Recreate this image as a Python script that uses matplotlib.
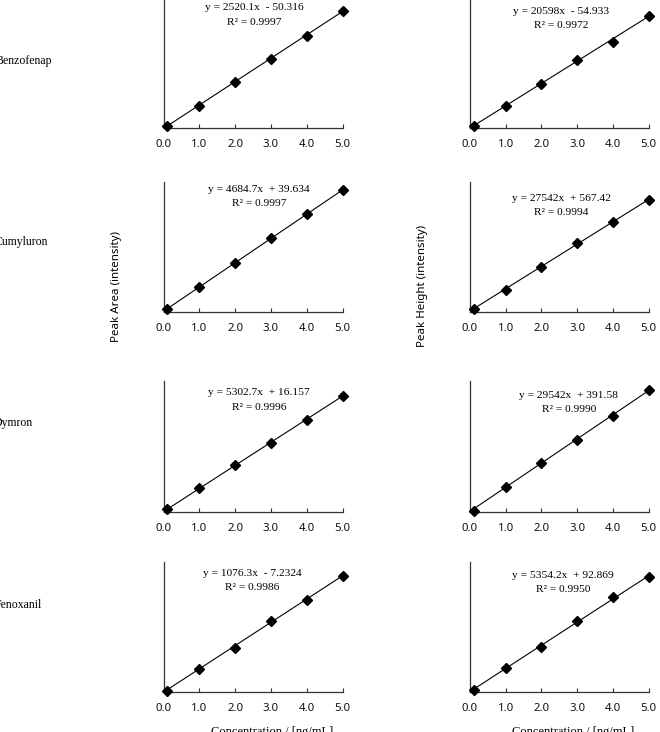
import matplotlib
matplotlib.use("Agg")
import matplotlib.pyplot as plt
import numpy as np

# ---------------- data ----------------
compounds = ["Benzofenap", "Cumyluron", "Dymron", "Fenoxanil"]
conc = [0.1, 1.0, 2.0, 3.0, 4.0, 5.0]
xticks = [0, 1, 2, 3, 4, 5]
xtick_labels = ["0.0", "1.0", "2.0", "3.0", "4.0", "5.0"]

benzofenap_area = [180, 2420, 4950, 7480, 9880, 12580]
cumyluron_area = [420, 4710, 9330, 14180, 18740, 23530]
dymron_area = [580, 5350, 10680, 15800, 21100, 26650]
fenoxanil_area = [60, 1068, 2050, 3300, 4270, 5370]

benzofenap_height = [1900, 20100, 41000, 62600, 79500, 103800]
cumyluron_height = [2500, 27000, 54800, 84300, 110400, 137800]
dymron_height = [900, 30300, 60200, 88300, 117300, 149500]
fenoxanil_height = [560, 5450, 10300, 16500, 22000, 26500]

area_slope = [2520.1, 4684.7, 5302.7, 1076.3]
area_intercept = [-50.316, 39.634, 16.157, -7.2324]
area_r2 = ["0.9997", "0.9997", "0.9996", "0.9986"]
area_eq = ["y = 2520.1x  - 50.316", "y = 4684.7x  + 39.634",
           "y = 5302.7x  + 16.157", "y = 1076.3x  - 7.2324"]
area_ymax = [14000, 25000, 30000, 6000]

height_slope = [20598, 27542, 29542, 5354.2]
height_intercept = [-54.933, 567.42, 391.58, 92.869]
height_r2 = ["0.9972", "0.9994", "0.9990", "0.9950"]
height_eq = ["y = 20598x  - 54.933", "y = 27542x  + 567.42",
             "y = 29542x  + 391.58", "y = 5354.2x  + 92.869"]
height_ymax = [120000, 160000, 160000, 30000]

area_data = [benzofenap_area, cumyluron_area, dymron_area, fenoxanil_area]
height_data = [benzofenap_height, cumyluron_height, dymron_height, fenoxanil_height]

# ---------------- layout (pixels) ----------------
W, H = 660, 732
fig = plt.figure(figsize=(W / 100, H / 100), dpi=100)

def fx(x):
    return x / W

def fy(y):
    return 1 - y / H

row_top = [-2, 182, 381, 562.3]
row_bot = [128, 311.5, 511.7, 692]
col_left = [163.5, 470]
col_w = [179, 178.5]

eq_pos = [  # (col, row): (x_center, y_line1, y_line2)
    [(254, 8, 22.7), (259, 189, 203.3), (259, 392.7, 407.7), (252, 573.3, 587.7)],
    [(561.5, 11, 25), (561.7, 198.3, 212.7), (568.8, 395, 410), (563.3, 575, 589.3)],
]
label_pos = [(52, 61), (48, 242.3), (33, 422.7), (42, 605)]

serif = ["Liberation Serif", "DejaVu Serif"]
sans = ["Noto Sans", "DejaVu Sans"]

for c in range(2):
    data = area_data if c == 0 else height_data
    slopes = area_slope if c == 0 else height_slope
    inters = area_intercept if c == 0 else height_intercept
    eqs = area_eq if c == 0 else height_eq
    r2s = area_r2 if c == 0 else height_r2
    ymaxs = area_ymax if c == 0 else height_ymax
    for r in range(4):
        ax = fig.add_axes([fx(col_left[c]), fy(row_bot[r]), col_w[c] / W,
                           (row_bot[r] - row_top[r]) / H])
        xs = np.array([conc[0], conc[-1]])
        ax.plot(xs, slopes[r] * xs + inters[r], color="black", lw=0.8, zorder=2)
        ax.plot(conc, data[r], linestyle="none", marker="D", ms=5.3,
                color="black", zorder=3, clip_on=False)
        ax.set_xlim(0, 5)
        ax.set_ylim(0, ymaxs[r])
        ax.set_xticks(xticks)
        ax.set_xticklabels(xtick_labels, fontfamily=sans, fontsize=8.2, color="#111111")
        ax.set_yticks([])
        ax.tick_params(axis="x", direction="in", length=3, width=0.8, pad=8,
                       color="#333333")
        for s in ["top", "right"]:
            ax.spines[s].set_visible(False)
        for s in ["left", "bottom"]:
            ax.spines[s].set_color("#333333")
            ax.spines[s].set_linewidth(0.9)
        ax.patch.set_alpha(0)
        xc, y1, y2 = eq_pos[c][r]
        fig.text(fx(xc), fy(y1), eqs[r], ha="center", va="center",
                 fontfamily=serif, fontsize=8.2)
        fig.text(fx(xc), fy(y2), "R\u00b2 = " + r2s[r], ha="center", va="center",
                 fontfamily=serif, fontsize=8.2)

for name, (x, y) in zip(compounds, label_pos):
    fig.text(fx(x), fy(y), name, ha="right", va="center", fontfamily=serif, fontsize=8.5)

fig.text(fx(116), fy(286), "Peak Area (intensity)", rotation=90, ha="center",
         va="center", fontfamily=sans, fontsize=8.3)
fig.text(fx(422), fy(286), "Peak Height (intensity)", rotation=90, ha="center",
         va="center", fontfamily=sans, fontsize=8.3)

for xc in [271.7, 573]:
    fig.text(fx(xc), fy(726), "Concentration / [ng/mL]", ha="center", va="top",
             fontfamily=serif, fontsize=9)

fig.savefig("out.png", dpi=100)
